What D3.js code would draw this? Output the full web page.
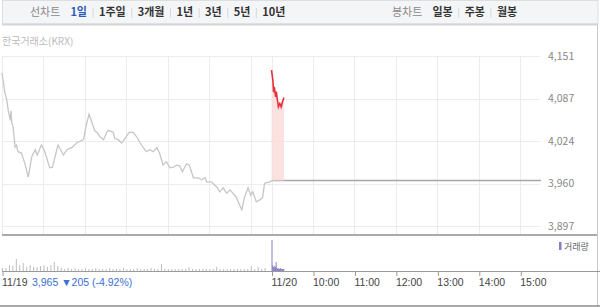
<!DOCTYPE html>
<html>
<head>
<meta charset="utf-8">
<script src="https://cdn.jsdelivr.net/npm/d3@7"></script>
<style>
  body { margin: 0; background: #fff; }
  svg { display: block; font-family: "Noto Sans CJK KR", "Noto Sans", sans-serif; }
</style>
</head>
<body>
<svg id="chart" width="600" height="307"></svg>
<script>
// minutes from 9:00 on 11/19 (11/20 starts at 390)
var prevDay = [
  [0, 4126], [3, 4105], [4, 4097], [7, 4085], [9, 4070], [12, 4055], [13, 4069], [14, 4052],
  [16, 4045], [19, 4015], [21, 4018], [23, 4008], [28, 4006], [33, 3991], [38, 3970], [43, 4000],
  [48, 4011], [51, 4003], [57, 4018], [62, 4008], [69, 3984], [73, 3985], [81, 4018], [89, 4003],
  [94, 4011], [101, 4014], [108, 4021], [118, 4026], [122, 4048], [126, 4064], [130, 4052], [134, 4040],
  [138, 4036], [142, 4030], [147, 4026], [151, 4036], [154, 4040], [161, 4037], [163, 4028], [168, 4026],
  [173, 4021], [178, 4028], [184, 4037], [190, 4037], [195, 4030], [200, 4021], [204, 4015], [209, 4008],
  [214, 4011], [219, 4008], [224, 4014], [228, 4006], [233, 3988], [238, 3993], [243, 3984], [248, 3985],
  [253, 3988], [257, 3987], [261, 3978], [267, 3990], [271, 3988], [277, 3969], [284, 3969], [289, 3966],
  [294, 3969], [296, 3963], [303, 3963], [311, 3955], [315, 3948], [320, 3954], [325, 3946], [330, 3951],
  [334, 3946], [339, 3940], [347, 3921], [351, 3940], [356, 3954], [360, 3943], [363, 3948], [368, 3933],
  [373, 3936], [377, 3939], [380, 3961], [388, 3963], [390, 3965]
];
var today = [
  [390, 4130], [392, 4115], [393, 4097], [394, 4105], [396, 4090], [397, 4098], [398, 4089],
  [400, 4075], [402, 4080], [404, 4075], [406, 4083], [408, 4089]
];
var prevClose = 3965;

// 5-minute volume, 11/19 (thousand shares)
var prevVolume = [
  30, 30, 60, 50, 120, 60, 80, 40, 60, 40, 40, 50, 60, 40, 60, 90, 50,
  30, 20, 30, 20, 30, 20, 20, 30, 20, 20, 30, 20,
  20, 20, 30, 20, 20, 20, 30, 20, 20, 20, 30, 20, 20, 20, 30, 20, 20,
  70, 20, 20, 20, 20, 20, 20, 20, 40, 20, 20, 20, 20, 20, 20, 20, 40,
  20, 20, 20, 20, 20, 20, 20, 20, 20, 50, 20, 40, 20, 30
];
// 1-minute volume, 11/20
var todayVolume = [310, 60, 40, 30, 50, 40, 90, 30, 20, 30, 20, 20, 30, 20, 20, 20, 20, 20];

var yTicks = [3897, 3960.5, 4024, 4087.5, 4151];
var gridMinutes = [0, 60, 120, 180, 240, 300, 360, 390, 450, 510, 570, 630, 690, 750];
var axisMinutes = [0, 390, 450, 510, 570, 630, 690, 750];
var axisLabels = ['11/19', '11/20', '10:00', '11:00', '12:00', '13:00', '14:00', '15:00'];
var periodTabs = ['1일', '1주일', '3개월', '1년', '3년', '5년', '10년'];
var candleTabs = ['일봉', '주봉', '월봉'];

var svg = d3.select('#chart');

var x = d3.scaleLinear().domain([0, 780]).range([2, 541]);
var y = d3.scaleLinear().domain([3897, 4151]).range([226, 56]);
var vy = d3.scaleLinear().domain([0, 310]).range([271, 240]);

// header bar
svg.append('rect')
  .attr('x', 2.5).attr('y', 0.5).attr('width', 595.5).attr('height', 23.5)
  .attr('fill', '#f4f5f7').attr('stroke', '#dcdee2');
svg.append('line')
  .attr('x1', 2).attr('x2', 598).attr('y1', 24.5).attr('y2', 24.5)
  .attr('stroke', '#d3d5d9').attr('stroke-width', 2);

function tabRow(label, tabs, startX, activeIndex) {
  var g = svg.append('g').attr('font-size', 11);
  var t = g.append('text').attr('x', startX).attr('y', 16).attr('fill', '#8a8a8a').text(label);
  var cx = startX + t.node().getComputedTextLength() + 10;
  tabs.forEach(function (d, i) {
    if (i > 0) {
      g.append('line').attr('x1', cx - 6).attr('x2', cx - 6).attr('y1', 8).attr('y2', 18)
        .attr('stroke', '#d8d8d8');
    }
    var tt = g.append('text').attr('x', cx).attr('y', 16)
      .attr('font-weight', 'bold')
      .attr('fill', i === activeIndex ? '#2f5bb7' : '#333')
      .text(d);
    cx += tt.node().getComputedTextLength() + 12;
  });
}
tabRow('선차트', periodTabs, 30, 0);
tabRow('봉차트', candleTabs, 392, -1);

svg.append('text')
  .attr('x', 2).attr('y', 45).attr('font-size', 10).attr('fill', '#bbb')
  .text('한국거래소(KRX)');

// grid
svg.append('g').selectAll('line')
  .data(yTicks).enter().append('line')
  .attr('x1', 2).attr('x2', 540)
  .attr('y1', d => Math.round(y(d)) + 0.5).attr('y2', d => Math.round(y(d)) + 0.5)
  .attr('stroke', '#ececec');
svg.append('g').selectAll('line')
  .data(gridMinutes).enter().append('line')
  .attr('x1', d => Math.round(x(d)) + 0.5).attr('x2', d => Math.round(x(d)) + 0.5)
  .attr('y1', 56).attr('y2', 234)
  .attr('stroke', '#ececec');

svg.append('g').selectAll('text')
  .data(yTicks).enter().append('text')
  .attr('x', 548).attr('y', d => y(d)).attr('dy', '0.35em')
  .attr('font-size', 10.5).attr('fill', '#888')
  .text(d => d3.format(',')(Math.floor(d)));

// previous close line across today
svg.append('line')
  .attr('x1', x(390)).attr('x2', x(780))
  .attr('y1', y(prevClose)).attr('y2', y(prevClose))
  .attr('stroke', '#a8a8a8').attr('stroke-width', 1.5);

// today's fill and line
svg.append('path')
  .datum(today)
  .attr('fill', '#fbdcdc').attr('opacity', 0.85)
  .attr('d', d3.area().x(d => x(d[0])).y0(y(prevClose)).y1(d => y(d[1])));

svg.append('path')
  .datum(prevDay)
  .attr('fill', 'none').attr('stroke', '#c6c6c6').attr('stroke-width', 1.3)
  .attr('d', d3.line().x(d => x(d[0])).y(d => y(d[1])));

svg.append('path')
  .datum(today)
  .attr('fill', 'none').attr('stroke', '#e3323a').attr('stroke-width', 1.6)
  .attr('d', d3.line().x(d => x(d[0])).y(d => y(d[1])));

// panel borders
svg.append('line')
  .attr('x1', 2).attr('x2', 598).attr('y1', 235).attr('y2', 235)
  .attr('stroke', '#aaa').attr('stroke-width', 2);
svg.append('line')
  .attr('x1', 597.5).attr('x2', 597.5).attr('y1', 25).attr('y2', 306)
  .attr('stroke', '#c8c8c8');

// volume
svg.append('g').selectAll('line')
  .data(prevVolume).enter().append('line')
  .attr('x1', (d, i) => x(i * 5) + 0.5).attr('x2', (d, i) => x(i * 5) + 0.5)
  .attr('y1', vy(0)).attr('y2', d => vy(d))
  .attr('stroke', '#bdbdbd');
svg.append('g').selectAll('line')
  .data(todayVolume).enter().append('line')
  .attr('x1', (d, i) => x(390 + i) + 0.5).attr('x2', (d, i) => x(390 + i) + 0.5)
  .attr('y1', vy(0)).attr('y2', d => vy(d))
  .attr('stroke', '#8a7cc6');

svg.append('rect')
  .attr('x', 559).attr('y', 242).attr('width', 2.5).attr('height', 8)
  .attr('fill', '#8a7cc6');
svg.append('text')
  .attr('x', 564).attr('y', 249.5).attr('font-size', 9).attr('fill', '#666')
  .text('거래량');

svg.append('line')
  .attr('x1', 2).attr('x2', 600).attr('y1', 271.5).attr('y2', 271.5)
  .attr('stroke', '#9a9a9a');

// time axis
var axis = d3.axisBottom(x)
  .tickValues(axisMinutes)
  .tickSize(4)
  .tickFormat((d, i) => axisLabels[i]);
var ax = svg.append('g').attr('transform', 'translate(0.5,272)').call(axis);
ax.select('.domain').remove();
ax.selectAll('.tick line').attr('stroke', '#999');
ax.selectAll('.tick text')
  .attr('text-anchor', 'start').attr('x', -1).attr('y', 7)
  .attr('font-size', 10.5).attr('fill', '#444')
  .attr('font-family', '"Liberation Sans", sans-serif');

svg.append('text')
  .attr('x', 32).attr('y', 285.5).attr('font-size', 10.5).attr('fill', '#3b6fd6')
  .attr('font-family', '"Liberation Sans", sans-serif')
  .text('3,965 ▼205 (-4.92%)');

svg.append('line')
  .attr('x1', 0).attr('x2', 600).attr('y1', 306).attr('y2', 306)
  .attr('stroke', '#8c8c8c').attr('stroke-width', 1.5);
</script>
</body>
</html>
